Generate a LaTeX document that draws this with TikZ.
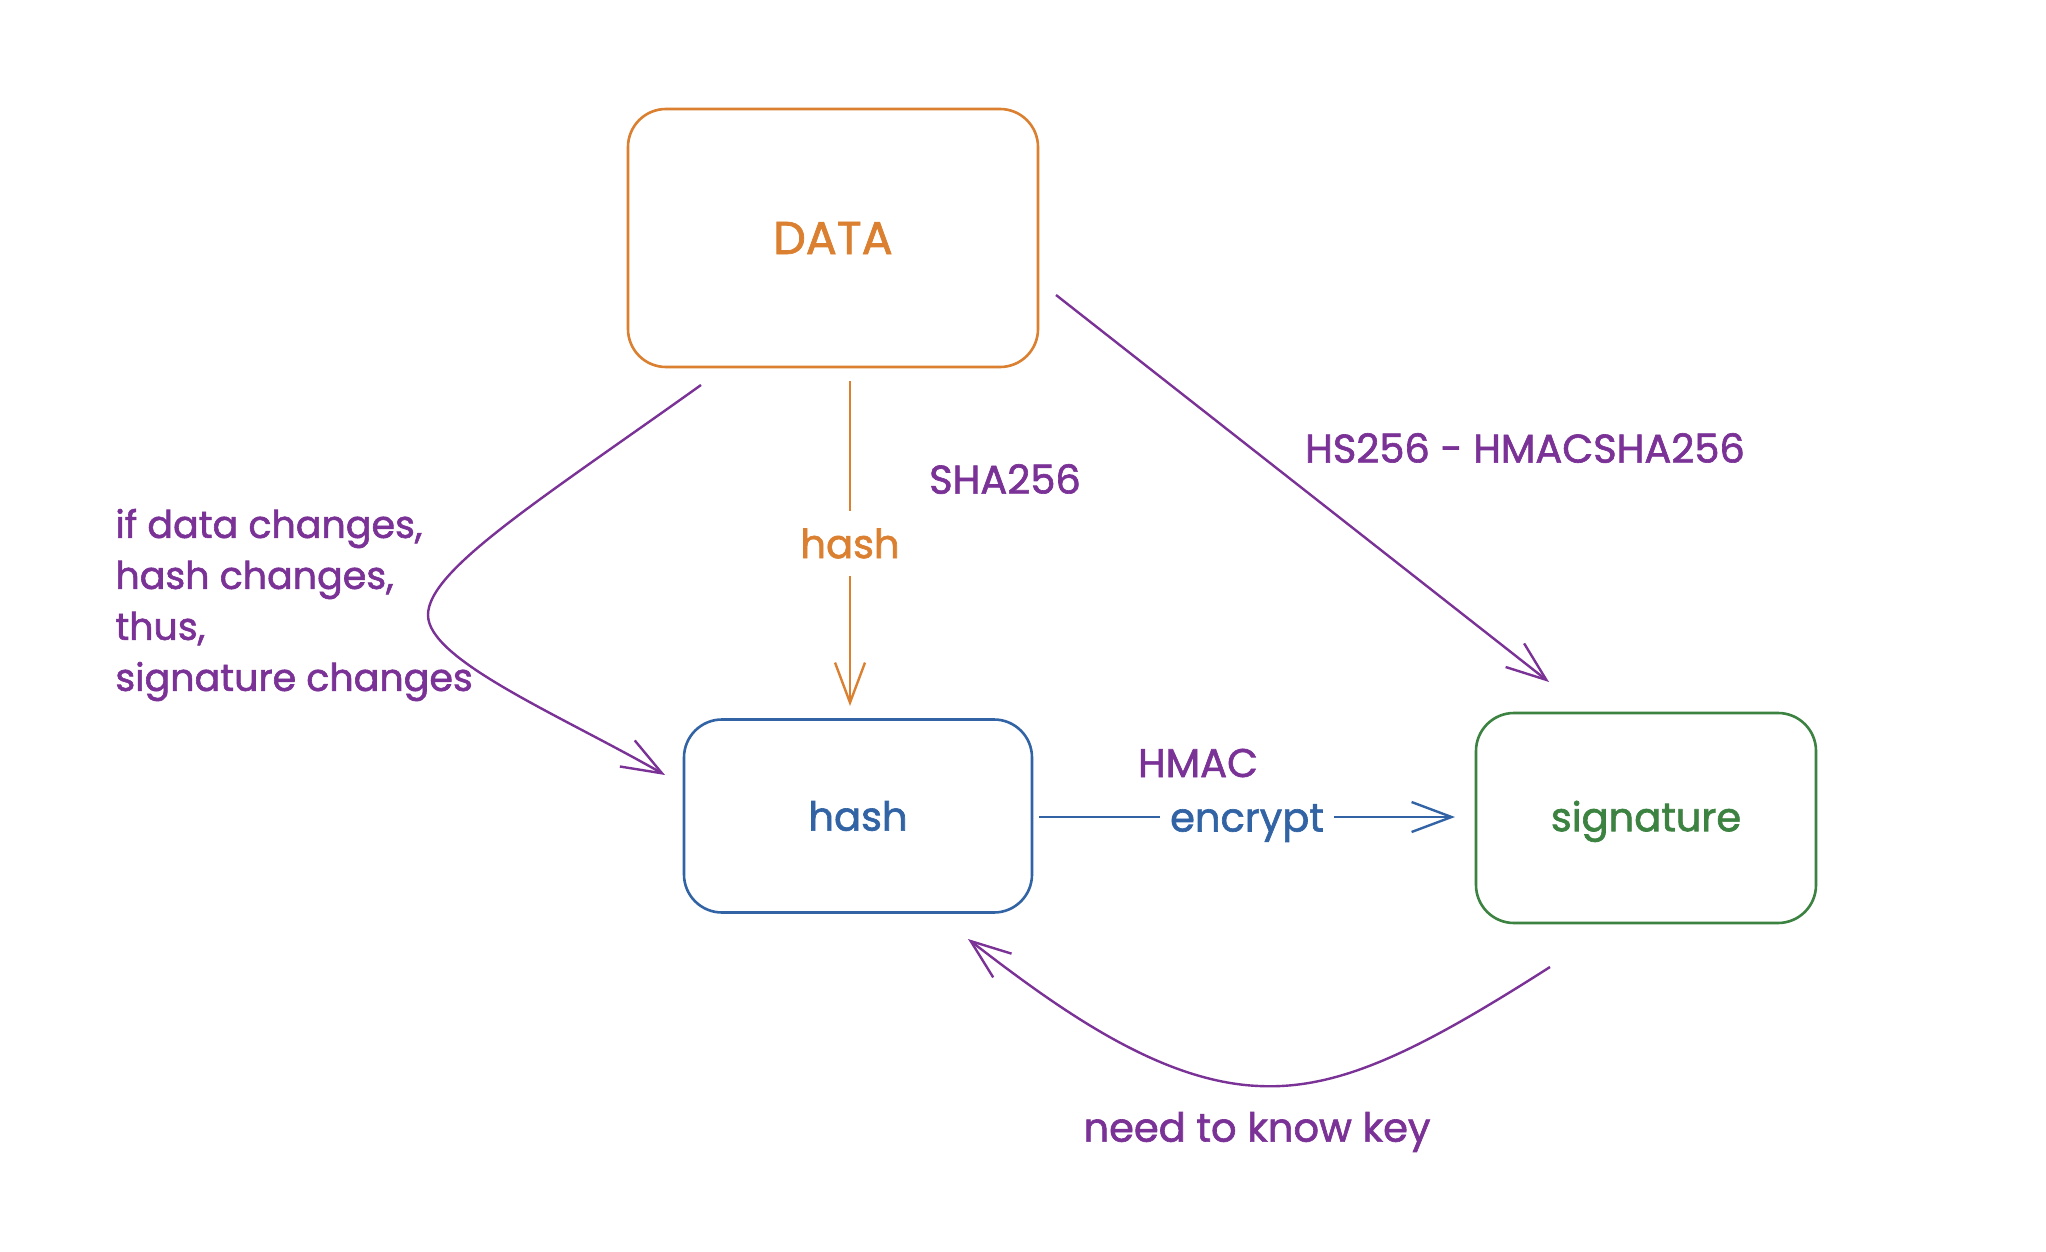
\documentclass[tikz,border=0pt]{standalone}
\usepackage{fontspec}
\setmainfont{Poppins}[FakeBold=1.6]
\usetikzlibrary{arrows.meta}
\definecolor{cOr}{HTML}{DA8030}
\definecolor{cBl}{HTML}{3264A5}
\definecolor{cGr}{HTML}{3C8241}
\definecolor{cPu}{HTML}{7B3297}
\begin{document}
\begin{tikzpicture}[x=0.5pt,y=-0.5pt,
  box/.style={draw,rounded corners=19pt,line width=1.3pt,inner sep=0pt},
  lbl/.style={font=\fontsize{20}{25.5}\selectfont,inner sep=2pt},
  big/.style={font=\fontsize{23}{28}\selectfont,inner sep=2pt},
  arr/.style={line width=1.2pt,-{Straight Barb[length=20pt,width=15pt]}},
  gap/.style={fill=white,inner xsep=5pt,inner ysep=9pt}]
\fill[white] (0,0) rectangle (2046,1252);
% boxes
\node[box,draw=cOr,text=cOr,big,minimum width=205pt,minimum height=129pt] (data) at (833,238) {DATA};
\node[box,draw=cBl,text=cBl,lbl,minimum width=174pt,minimum height=96.5pt] (hash) at (858,816) {hash};
\node[box,draw=cGr,text=cGr,lbl,minimum width=170pt,minimum height=105pt,text depth=2pt] (sig) at (1646,818) {signature};
% free labels
\node[lbl,text=cPu] (sha) at (1005,479) {SHA256};
\node[lbl,text=cPu] (hs) at (1525,448) {HS256 - HMACSHA256};
\node[lbl,text=cPu] (hmac) at (1198,763) {HMAC};
\node[lbl,text=cPu] (need) at (1257,1132) {need to know key};
\node[lbl,font=\fontsize{19}{25.5}\selectfont,text=cPu,align=left,anchor=west] (note) at (111,605) {if data changes,\\hash changes,\\thus,\\signature changes};
% connector end points
\coordinate (o1) at (850,381);
\coordinate (o2) at (850,706);
\coordinate (b1) at (1039,817);
\coordinate (b2) at (1455,817);
\coordinate (d1) at (1056,295);
\coordinate (d2) at (1549,682);
\coordinate (l1) at (701,385);
\coordinate (lm) at (428,615);
\coordinate (l2) at (665,775);
\coordinate (r1) at (1550,967);
\coordinate (rm) at (1259,1086);
\coordinate (r2) at (968,939);
% connectors
\draw[arr,cOr] (o1) -- node[lbl,gap,text=cOr] (hlbl) {hash} (o2);
\draw[arr,cBl] (b1) -- node[lbl,gap,inner ysep=3pt,yshift=-3pt,text=cBl] (enc) {encrypt} (b2);
\draw[arr,cPu] (d1) -- (d2);
\draw[arr,cPu] (l1) .. controls (540,500) and (428,570) .. (lm) .. controls (428,660) and (560,715) .. (l2);
\draw[arr,cPu] (r1) .. controls (1420,1050) and (1340,1090) .. (rm) .. controls (1160,1082) and (1060,1010) .. (r2);
\end{tikzpicture}
\end{document}
